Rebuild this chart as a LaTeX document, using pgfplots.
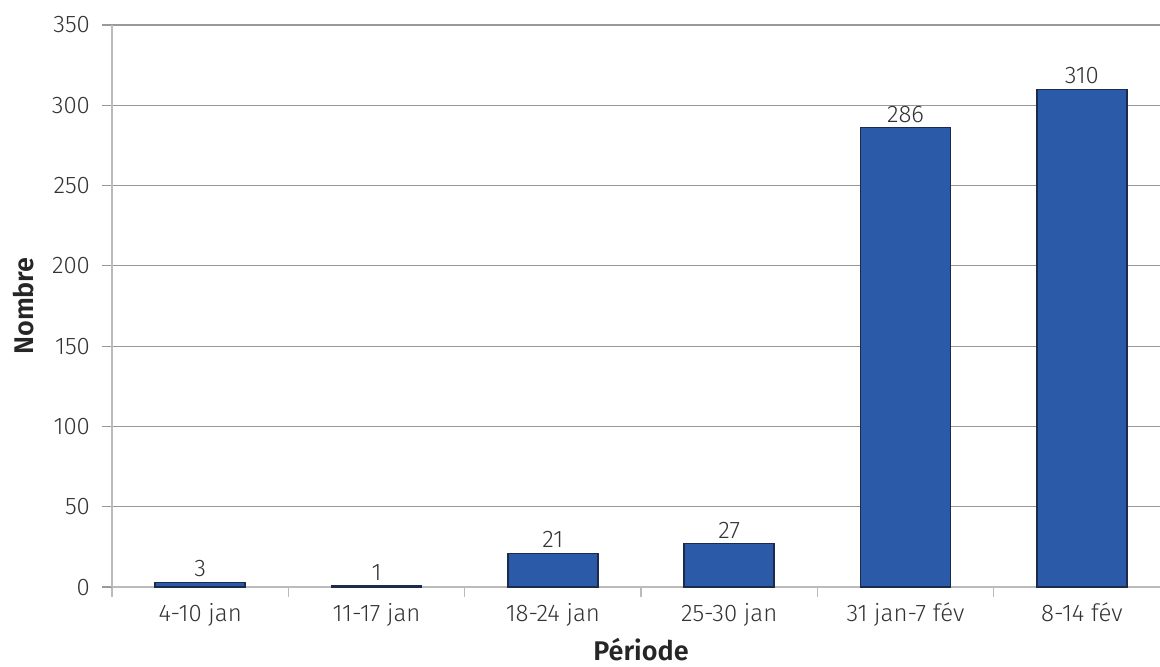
\documentclass[border=0pt]{standalone}
\usepackage{fontspec}
\setmainfont{Fira Sans}[UprightFont=* Light, BoldFont=* SemiBold]
\usepackage{pgfplots}
\pgfplotsset{compat=1.18}
\definecolor{barblue}{HTML}{2B5BA8}
\definecolor{baredge}{HTML}{1C2B4A}
\definecolor{gridc}{HTML}{999999}
\definecolor{axisc}{HTML}{BBBBBB}
\begin{document}
\begin{tikzpicture}
\begin{axis}[
  name=ax,
  scale only axis,
  width=529pt, height=281pt,
  xmin=-0.5, xmax=5.5,
  ymin=0, ymax=350,
  ytick={0,50,...,350},
  xtick={0,...,5},
  xticklabels={4-10 jan,11-17 jan,18-24 jan,25-30 jan,31 jan-7 fév,8-14 fév},
  minor xtick={-0.5,0.5,...,5.5},
  major x tick style={draw=none},
  minor x tick style={draw=axisc, line width=0.6pt},
  minor tick length=5pt,
  major tick length=5pt,
  y tick style={draw=gridc, line width=0.6pt},
  tick align=outside,
  ymajorgrids,
  grid style={gridc, line width=0.6pt},
  axis x line*=bottom,
  axis y line*=left,
  x axis line style={draw=axisc, line width=0.8pt, -},
  y axis line style={draw=axisc, line width=0.8pt, -},
  tick label style={font=\fontsize{12}{14}\selectfont, text=black!80},
  /pgf/number format/assume math mode=true,
  xticklabel style={yshift=0.5pt},
  yticklabel style={xshift=-2.5pt},
  xlabel={\textbf{Période}},
  ylabel={\textbf{Nombre}},
  label style={font=\fontsize{13.5}{15}\selectfont, text=black!85},
  xlabel style={at={(axis description cs:0.5,-0.130)}, anchor=base},
  ylabel style={at={(axis description cs:-0.0832,0.5)}, anchor=center},
  clip=false,
]
\addplot[ybar, bar width=45pt, fill=barblue, draw=baredge, line width=0.7pt,
  nodes near coords, nodes near coords style={font=\fontsize{12}{14}\selectfont, text=black!80, yshift=-1pt}]
  coordinates {(0,3) (1,1) (2,21) (3,27) (4,286) (5,310)};
\end{axis}
\pgfresetboundingbox
\path ([shift={(-56pt,-39.5pt)}]ax.south west) rectangle ([shift={(-5pt,12.5pt)}]ax.north east);
\end{tikzpicture}
\end{document}
